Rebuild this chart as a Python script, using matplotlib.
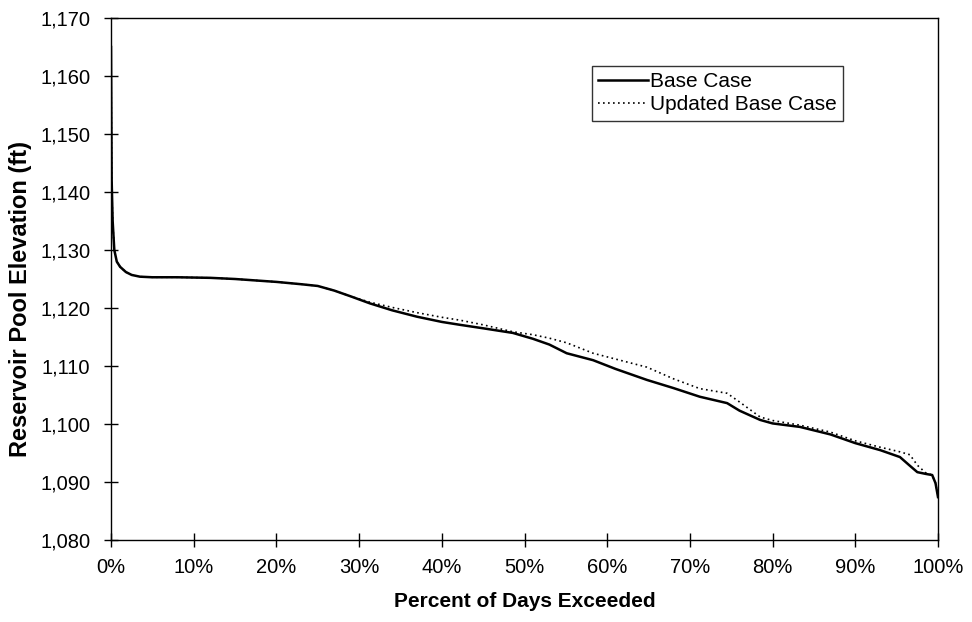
import matplotlib
matplotlib.use("Agg")
import matplotlib.pyplot as plt
from matplotlib.ticker import FuncFormatter

plt.rcParams['font.family'] = ['Liberation Sans', 'DejaVu Sans']

# Percent of days exceeded
base_pct = [0.0, 0.08, 0.2, 0.4, 0.7, 1.1, 1.8, 2.5, 3.5, 5, 8, 12, 15, 17, 20, 23, 25,
            27, 29, 31.3, 34, 37, 40, 42.2, 45, 48.6, 51, 53, 55.1, 58.3, 61, 64.8,
            68, 71.2, 74.5, 76, 78.5, 80, 83.3, 87, 90, 93, 95.4, 96.6, 97.5, 98.5,
            99.3, 99.7, 100]
base_elev = [1165.0, 1142.0, 1135.0, 1130.0, 1128.0, 1127.1, 1126.2, 1125.7, 1125.4,
             1125.3, 1125.3, 1125.2, 1125.0, 1124.8, 1124.5, 1124.1, 1123.8, 1123.0,
             1122.0, 1120.8, 1119.6, 1118.5, 1117.6, 1117.1, 1116.5, 1115.7, 1114.7,
             1113.7, 1112.2, 1111.0, 1109.5, 1107.6, 1106.2, 1104.7, 1103.6, 1102.3,
             1100.7, 1100.1, 1099.5, 1098.2, 1096.7, 1095.5, 1094.3, 1092.8, 1091.7,
             1091.4, 1091.2, 1089.8, 1087.4]

upd_pct = [0.0, 0.08, 0.2, 0.4, 0.7, 1.1, 1.8, 2.5, 3.5, 5, 8, 12, 15, 17, 20, 23, 25,
           27, 29, 31.3, 34, 37, 40, 42.2, 45, 48.6, 51, 53, 55.1, 58.3, 61, 64.8,
           68, 71.2, 74.5, 76, 78.5, 80, 83.3, 87, 90, 93, 95.4, 96.6, 97.5, 98.5,
           99.3, 99.7, 100]
upd_elev = [1165.0, 1142.0, 1135.0, 1130.0, 1128.0, 1127.1, 1126.2, 1125.7, 1125.4,
            1125.3, 1125.3, 1125.2, 1125.0, 1124.8, 1124.5, 1124.1, 1123.8, 1123.0,
            1122.0, 1121.0, 1120.1, 1119.2, 1118.4, 1117.9, 1117.1, 1115.9, 1115.4,
            1114.8, 1114.0, 1112.2, 1111.2, 1109.8, 1107.8, 1106.1, 1105.3, 1103.8,
            1101.2, 1100.6, 1099.8, 1098.6, 1097.1, 1096.0, 1095.2, 1094.7, 1092.9,
            1091.6, 1091.2, 1089.8, 1087.4]

x_ticks = [0, 10, 20, 30, 40, 50, 60, 70, 80, 90, 100]
y_ticks = [1080, 1090, 1100, 1110, 1120, 1130, 1140, 1150, 1160, 1170]

fig = plt.figure(figsize=(9.72, 6.22), dpi=100)
ax = fig.add_axes([111/972, 1 - 540/622, (938-111)/972, (540-18)/622])

ax.plot(upd_pct, upd_elev, color='black', linestyle=(0, (1, 2)), linewidth=1.2,
        label='Updated Base Case', zorder=2)
ax.plot(base_pct, base_elev, color='black', linestyle='-', linewidth=1.8,
        label='Base Case', zorder=3)

ax.set_xlim(0, 100)
ax.set_ylim(1080, 1170)
ax.set_xticks(x_ticks)
ax.set_yticks(y_ticks)
ax.xaxis.set_major_formatter(FuncFormatter(lambda v, p: f"{int(round(v))}%"))
ax.yaxis.set_major_formatter(FuncFormatter(lambda v, p: f"{int(round(v)):,}"))
ax.tick_params(axis='both', direction='inout', length=10, width=1.0,
               labelsize=14.5, colors='black')
ax.tick_params(axis='x', pad=8)
ax.tick_params(axis='y', pad=10)
for s in ax.spines.values():
    s.set_linewidth(1.0)
    s.set_color('black')

ax.set_xlabel('Percent of Days Exceeded', fontsize=15, fontweight='bold', labelpad=11)
ax.set_ylabel('Reservoir Pool Elevation (ft)', fontsize=17, fontweight='bold')
ax.yaxis.set_label_coords(-0.095, 0.462)

handles, labels = ax.get_legend_handles_labels()
leg = ax.legend(handles[::-1], labels[::-1], loc='upper left',
                bbox_to_anchor=((592-111)/827, 1 - (66-18)/522),
                fontsize=15, frameon=True, fancybox=False, edgecolor='black',
                handlelength=2.4, handletextpad=0.1, borderpad=0.3, labelspacing=0.2,
                borderaxespad=0)
leg.get_frame().set_linewidth(1.0)

fig.savefig('out.png', dpi=100, facecolor='white')
